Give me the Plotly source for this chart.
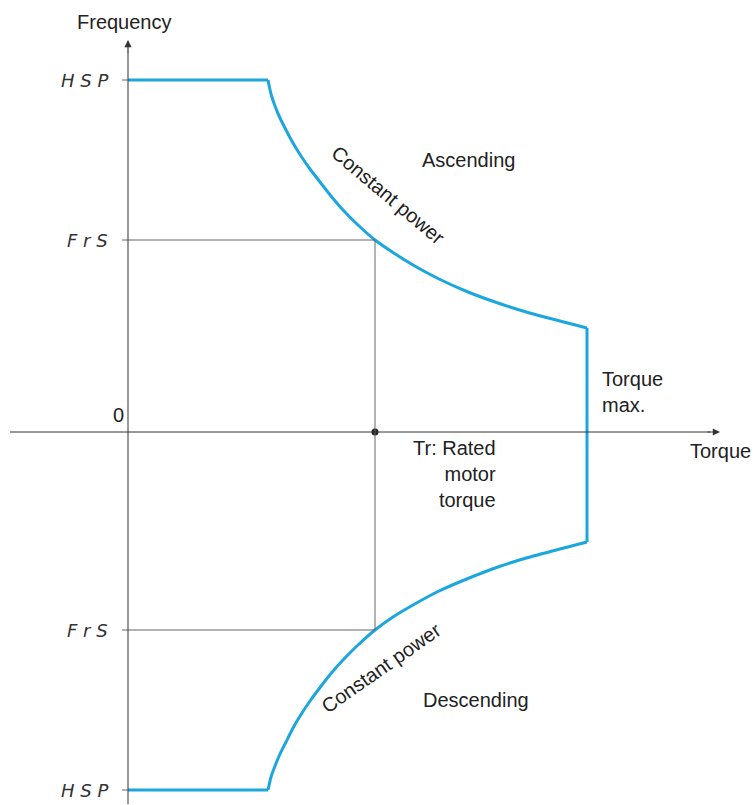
import plotly.graph_objects as go

# Data (torque offset, frequency offset), in drawing units
upper_T = [0, 140, 143, 147, 152, 158, 165, 173, 182, 192, 203, 215, 230, 247, 265, 285,
           310, 340, 370, 400, 430, 459, 459]
upper_F = [352, 352, 338, 326, 314, 302, 289, 276, 263, 250, 236, 222, 207, 192, 179.5, 167,
           153.5, 140, 129, 119.5, 111.5, 104, 0]
lower_T = [459, 459, 430, 400, 370, 340, 310, 285, 265, 247, 230, 215, 203, 192, 182, 173,
           165, 158, 152, 147, 143, 140, 0]
lower_F = [0, -110, -117.5, -125.5, -135, -146.5, -159.5, -173, -185, -198, -213, -228,
           -241.5, -255.5, -269, -282.5, -296, -310, -322, -334, -345, -358, -358]

tick_vals = [352, 192, -198, -358]
tick_text = ["H S P", "F r S", "F r S", "H S P"]
rated_T = 247
max_T = 459

BLUE = "#1ba6dd"
GRAY = "#666666"
AX = "#333333"
FONT = "Liberation Sans, Arial, sans-serif"

fig = go.Figure()

def seg(xs, ys, spline=False):
    line = dict(color=BLUE, width=3)
    if spline:
        line.update(shape="spline", smoothing=0.5)
    fig.add_trace(go.Scatter(x=xs, y=ys, mode="lines", line=line, hoverinfo="skip"))

n = len(upper_T)
# upper: flat part, curved constant-power part, vertical part
seg(upper_T[0:2], upper_F[0:2])
seg(upper_T[1:n - 1], upper_F[1:n - 1], spline=True)
seg(upper_T[n - 2:n], upper_F[n - 2:n])
m = len(lower_T)
seg(lower_T[0:2], lower_F[0:2])
seg(lower_T[1:m - 1], lower_F[1:m - 1], spline=True)
seg(lower_T[m - 2:m], lower_F[m - 2:m])

fig.add_trace(go.Scatter(x=[rated_T], y=[0], mode="markers",
                         marker=dict(color="#222222", size=7), hoverinfo="skip"))

shapes = []
shapes.append(dict(type="line", x0=0, x1=rated_T, y0=tick_vals[1], y1=tick_vals[1],
                   line=dict(color=GRAY, width=1)))
shapes.append(dict(type="line", x0=0, x1=rated_T, y0=tick_vals[2], y1=tick_vals[2],
                   line=dict(color=GRAY, width=1)))
shapes.append(dict(type="line", x0=rated_T, x1=rated_T, y0=tick_vals[1], y1=tick_vals[2],
                   line=dict(color=GRAY, width=1)))
for v in tick_vals:
    shapes.append(dict(type="line", x0=-6, x1=0, y0=v, y1=v, line=dict(color=GRAY, width=1)))
shapes.append(dict(type="line", x0=-118, x1=582, y0=0, y1=0, line=dict(color=AX, width=1)))
shapes.append(dict(type="line", x0=0, x1=0, y0=-372, y1=380, line=dict(color=AX, width=1)))

annotations = []
annotations.append(dict(x=592, y=0, ax=578, ay=0, xref="x", yref="y", axref="x", ayref="y",
                        showarrow=True, arrowhead=2, arrowsize=1.2, arrowwidth=1.2,
                        arrowcolor=AX, text=""))
annotations.append(dict(x=0, y=392, ax=0, ay=378, xref="x", yref="y", axref="x", ayref="y",
                        showarrow=True, arrowhead=2, arrowsize=1.2, arrowwidth=1.2,
                        arrowcolor=AX, text=""))

def txt(x, y, s, size=20, xanchor="center", yanchor="middle", align="center", angle=0,
        color="#222222", family=FONT):
    annotations.append(dict(x=x, y=y, xref="x", yref="y", text=s, showarrow=False,
                            xanchor=xanchor, yanchor=yanchor, align=align, textangle=angle,
                            font=dict(size=size, color=color, family=family)))

for v, t in zip(tick_vals, tick_text):
    txt(-18, v, "<i>" + t + "</i>", size=18, xanchor="right", color="#333333",
        family="DejaVu Sans, sans-serif")

txt(-4, 410, "Frequency")
txt(-10, 17, "0")
txt(592, -19, "Torque")
txt(340, 272, "Ascending")
txt(348, -268, "Descending")
txt(472, 40, "Torque<br>max.", xanchor="left", align="left")
txt(370, -42, "Tr: Rated<br>motor<br>torque", xanchor="right", align="right")
txt(260, 237, "Constant power", angle=40)
txt(253, -236, "Constant power", angle=-35)

fig.update_layout(
    width=754, height=805,
    margin=dict(l=0, r=0, t=0, b=0),
    paper_bgcolor="white", plot_bgcolor="white",
    showlegend=False,
    xaxis=dict(range=[-128, 626], visible=False, fixedrange=True),
    yaxis=dict(range=[-373, 432], visible=False, fixedrange=True),
    shapes=shapes, annotations=annotations,
)

fig.write_html("out.html", config={"displayModeBar": False},
               post_script="document.body.style.margin='0';")
